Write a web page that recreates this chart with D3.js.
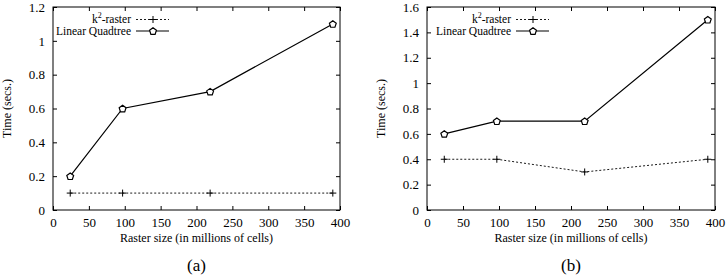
<!DOCTYPE html>
<html>
<head>
<meta charset="utf-8">
<script src="https://cdn.jsdelivr.net/npm/d3@7"></script>
<style>
  body { margin: 0; background: #fff; }
</style>
</head>
<body>
<svg id="svg" width="727" height="276"></svg>
<script>
// Raster sizes (millions of cells)
var rasterSizes = [24, 97, 219, 390];

// panel (a)
var k2RasterA = [0.1, 0.1, 0.1, 0.1];
var quadtreeA = [0.2, 0.6, 0.7, 1.1];

// panel (b)
var k2RasterB = [0.4, 0.4, 0.3, 0.4];
var quadtreeB = [0.6, 0.7, 0.7, 1.5];

var xTicks = [0, 50, 100, 150, 200, 250, 300, 350, 400];
var yTicksA = [0, 0.2, 0.4, 0.6, 0.8, 1, 1.2];
var yTicksB = [0, 0.2, 0.4, 0.6, 0.8, 1, 1.2, 1.4, 1.6];

var SERIF = "'Liberation Serif', 'Times New Roman', Times, 'DejaVu Serif', serif";

var svg = d3.select('#svg').attr('font-family', SERIF);

// pentagon path centred on 0,0
function pentagon(r){
	var pts = d3.range(5).map(function(i){
		var a = -Math.PI / 2 + i * Math.PI * 2 / 5;
		return [r * Math.cos(a), r * Math.sin(a)];
	});
	return 'M' + pts.join('L') + 'Z';
}

var PLUS = 'M-3.5,0H3.5M0,-3.5V3.5';

function addText(g, x, y, size, anchor){
	return g.append('text').attr('x', x).attr('y', y)
		.attr('text-anchor', anchor || 'middle')
		.attr('font-family', SERIF).attr('font-size', size).attr('fill', '#000');
}

function drawPanel(settings){
	var g = svg.append('g'),
		left = settings.left, right = settings.right,
		top = 7, bottom = 210;

	var x = d3.scaleLinear().domain([0, 400]).range([left, right]);
	var y = d3.scaleLinear().domain([0, settings.yMax]).range([bottom, top]);

	// axes with inward ticks, mirrored
	g.append('g').attr('transform', 'translate(0,' + bottom + ')')
		.call(d3.axisBottom(x).tickValues(xTicks).tickSizeInner(-4).tickSizeOuter(0).tickPadding(8))
		.call(styleAxis);
	g.append('g').attr('transform', 'translate(0,' + top + ')')
		.call(d3.axisTop(x).tickValues(xTicks).tickSizeInner(-4).tickSizeOuter(0).tickFormat(''))
		.call(styleAxis);
	g.append('g').attr('transform', 'translate(' + left + ',0)')
		.call(d3.axisLeft(y).tickValues(settings.yTicks).tickSizeInner(-4).tickSizeOuter(0).tickPadding(8).tickFormat(d3.format('~g')))
		.call(styleAxis);
	g.append('g').attr('transform', 'translate(' + right + ',0)')
		.call(d3.axisRight(y).tickValues(settings.yTicks).tickSizeInner(-4).tickSizeOuter(0).tickFormat(''))
		.call(styleAxis);

	g.append('rect')
		.attr('x', left).attr('y', top)
		.attr('width', right - left).attr('height', bottom - top)
		.attr('fill', 'none').attr('stroke', '#000').attr('stroke-width', 1);

	var line = d3.line()
		.x(function(d, i){ return x(rasterSizes[i]); })
		.y(function(d){ return y(d); });

	// k2-raster: dotted line with plus marks
	g.append('path').datum(settings.k2)
		.attr('d', line)
		.attr('fill', 'none').attr('stroke', '#000')
		.attr('stroke-width', 0.9).attr('stroke-dasharray', '2,2');
	g.selectAll('.plus').data(settings.k2).enter().append('path')
		.attr('class', 'plus')
		.attr('transform', function(d, i){ return 'translate(' + x(rasterSizes[i]) + ',' + y(d) + ')'; })
		.attr('d', PLUS)
		.attr('stroke', '#000').attr('stroke-width', 1);

	// Linear Quadtree: solid line with pentagons
	g.append('path').datum(settings.lq)
		.attr('d', line)
		.attr('fill', 'none').attr('stroke', '#000').attr('stroke-width', 1.2);
	g.selectAll('.pent').data(settings.lq).enter().append('path')
		.attr('class', 'pent')
		.attr('transform', function(d, i){ return 'translate(' + x(rasterSizes[i]) + ',' + (y(d) + 0.4) + ')'; })
		.attr('d', pentagon(3.6))
		.attr('fill', '#fff').attr('stroke', '#000').attr('stroke-width', 1.2);

	// legend
	var lx = settings.legendX;
	var k2 = addText(g, lx, 22.5, 11.5, 'end');
	k2.append('tspan').text('k');
	k2.append('tspan').attr('dy', -5).attr('font-size', 8).text('2');
	k2.append('tspan').attr('dy', 5).text('-raster');
	g.append('line').attr('x1', lx + 5).attr('x2', lx + 38).attr('y1', 19.5).attr('y2', 19.5)
		.attr('stroke', '#000').attr('stroke-width', 0.9).attr('stroke-dasharray', '2,2');
	g.append('path').attr('transform', 'translate(' + (lx + 22) + ',19.5)')
		.attr('d', PLUS).attr('stroke', '#000').attr('stroke-width', 1);

	addText(g, lx, 35, 11.5, 'end').text('Linear Quadtree');
	g.append('line').attr('x1', lx + 5).attr('x2', lx + 38).attr('y1', 31).attr('y2', 31)
		.attr('stroke', '#000').attr('stroke-width', 1.2);
	g.append('path').attr('transform', 'translate(' + (lx + 22) + ',31.4)')
		.attr('d', pentagon(3.6)).attr('fill', '#fff').attr('stroke', '#000').attr('stroke-width', 1.2);

	// axis titles
	addText(g, (left + right) / 2, 242, 12).text('Raster size (in millions of cells)');
	addText(g, 0, 0, 12)
		.attr('transform', 'translate(' + (left - 42) + ',' + ((top + bottom) / 2) + ') rotate(-90)')
		.text('Time (secs.)');

	addText(g, (left + right) / 2, 271, 17).text(settings.caption);
}

function styleAxis(sel){
	sel.attr('font-family', SERIF).attr('font-size', 13);
	sel.select('.domain').remove();
	sel.selectAll('line').attr('stroke', '#000');
}

drawPanel({ left: 53, right: 340, yMax: 1.2, yTicks: yTicksA, k2: k2RasterA, lq: quadtreeA, legendX: 131, caption: '(a)' });
drawPanel({ left: 427, right: 715, yMax: 1.6, yTicks: yTicksB, k2: k2RasterB, lq: quadtreeB, legendX: 511, caption: '(b)' });
</script>
</body>
</html>
